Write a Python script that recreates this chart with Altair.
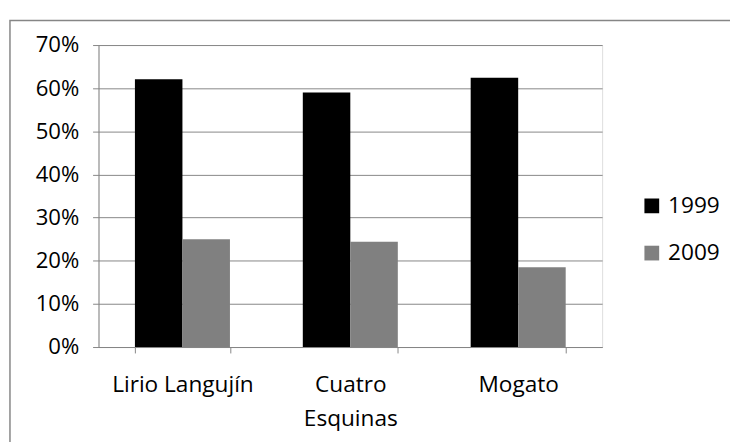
import altair as alt
import pandas as pd

categories = ["Lirio Langujín", "Cuatro Esquinas", "Mogato"]
years = ["1999", "2009"]
values_1999 = [0.621, 0.590, 0.624]
values_2009 = [0.250, 0.244, 0.185]

rows = []
for c, v in zip(categories, values_1999):
    rows.append({"sitio": c, "año": "1999", "valor": v})
for c, v in zip(categories, values_2009):
    rows.append({"sitio": c, "año": "2009", "valor": v})
df = pd.DataFrame(rows)

FONT = "Open Sans"
GRAY = "#868686"

label_expr = "datum.value == 'Cuatro Esquinas' ? ['Cuatro', 'Esquinas'] : datum.value"

bars = alt.Chart(df).mark_bar().encode(
    x=alt.X("sitio:N", sort=categories, title=None,
            scale=alt.Scale(paddingInner=0.434, paddingOuter=0.217),
            axis=alt.Axis(labelAngle=0, labelExpr=label_expr, tickBand="extent",
                          labelFontSize=23, labelFont=FONT, labelColor="#000000",
                          labelPadding=21, labelLineHeight=35, tickSize=6,
                          tickColor=GRAY, domainColor=GRAY, grid=False,
                          labelBaseline="top")),
    xOffset=alt.XOffset("año:N", sort=years,
                        scale=alt.Scale(paddingInner=0, paddingOuter=0)),
    y=alt.Y("valor:Q", title=None,
            scale=alt.Scale(domain=[0, 0.7], nice=False),
            axis=alt.Axis(format=".0%", values=[0, 0.1, 0.2, 0.3, 0.4, 0.5, 0.6, 0.7],
                          labelFontSize=22.5, labelFont=FONT, labelColor="#000000",
                          labelPadding=14, tickSize=6, tickColor=GRAY,
                          domainColor=GRAY, gridColor=GRAY, gridOpacity=1)),
    color=alt.Color("año:N", sort=years,
                    scale=alt.Scale(domain=years, range=["#000000", "#808080"]),
                    legend=alt.Legend(title=None, orient="none", legendX=551, legendY=152,
                                      symbolType="square", symbolSize=225,
                                      symbolStrokeWidth=0, labelFontSize=23,
                                      labelFont=FONT, labelColor="#000000",
                                      rowPadding=24, labelOffset=5)),
)

border = alt.Chart(pd.DataFrame({"a": [0]})).mark_rect(
    fill=None, stroke=GRAY, strokeWidth=1.5
).encode(
    x=alt.value(-90), x2=alt.value(720), y=alt.value(-25), y2=alt.value(480)
)

chart = alt.layer(border, bars).properties(
    width=512, height=307,
    autosize=alt.AutoSizeParams(type="none"),
    padding={"left": 92, "top": 34, "right": 130, "bottom": 100},
).configure_view(stroke=None).configure(background="white")

chart.save("out.html", embed_options={"renderer": "svg", "actions": False})
